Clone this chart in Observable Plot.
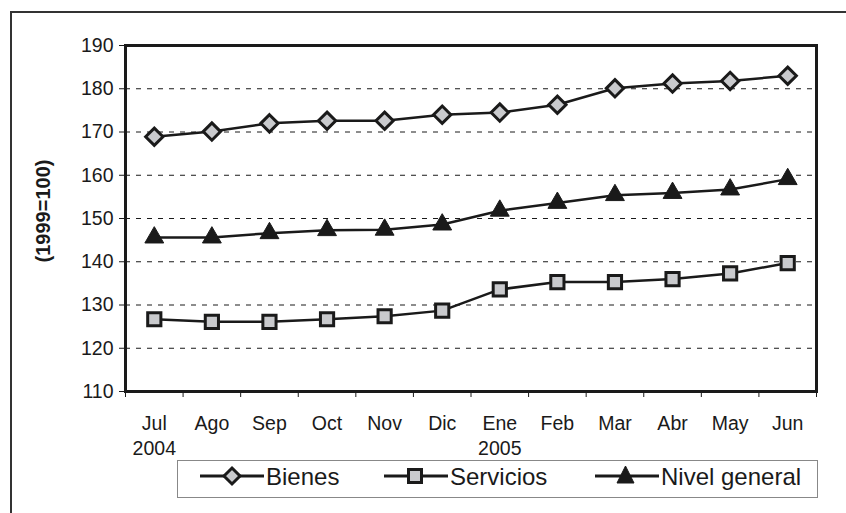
<!DOCTYPE html>
<html>
<head>
<meta charset="utf-8">
<script src="https://cdn.jsdelivr.net/npm/d3@7"></script>
<script src="https://cdn.jsdelivr.net/npm/@observablehq/plot@0.6"></script>
<style>
  html, body { margin: 0; padding: 0; background: #fff; }
  #page { position: relative; width: 846px; height: 513px; overflow: hidden; font-family: "Liberation Sans", Arial, sans-serif; color: #1a1a1a; }
  #outer { position: absolute; left: 10px; top: 11px; width: 850px; height: 520px; border-top: 2px solid #333; border-left: 2px solid #333; }
  #chart { position: absolute; left: 0; top: 0; }
  #ylabel { position: absolute; left: 43px; top: 211px; transform: translate(-50%, -50%) rotate(-90deg); font-weight: bold; font-size: 20px; white-space: nowrap; line-height: 1; }
  #legend { position: absolute; left: 177px; top: 460px; width: 639px; height: 36px; border: 1px solid #888; background: #fff; }
  .item { position: absolute; top: 0; height: 36px; }
  .item svg { position: absolute; top: 0; left: 0; }
  .item span { position: absolute; top: 1px; font-size: 24px; line-height: 30px; white-space: nowrap; }
</style>
</head>
<body>
<div id="page">
  <div id="outer"></div>
  <div id="chart"></div>
  <div id="ylabel"></div>
  <div id="legend"></div>
</div>
<script>
// ---- data ----
const months = ["Jul\n2004", "Ago", "Sep", "Oct", "Nov", "Dic", "Ene\n2005", "Feb", "Mar", "Abr", "May", "Jun"];
const bienes = [168.9, 170.1, 172.0, 172.6, 172.6, 174.0, 174.5, 176.3, 180.1, 181.2, 181.8, 183.0];
const servicios = [126.7, 126.1, 126.1, 126.7, 127.4, 128.7, 133.6, 135.3, 135.3, 136.0, 137.3, 139.7];
const nivelGeneral = [145.6, 145.6, 146.6, 147.3, 147.4, 148.6, 151.8, 153.6, 155.4, 155.9, 156.7, 159.1];
const seriesNames = ["Bienes", "Servicios", "Nivel general"];
const yTicks = [110, 120, 130, 140, 150, 160, 170, 180, 190];
const gridValues = [120, 130, 140, 150, 160, 170, 180];
const yLabel = "(1999=100)";

const idx = months.map((_, i) => i);
const bounds = d3.range(-0.5, months.length, 1);
const rows = (vals) => vals.map((v, i) => ({i, v}));

const fill = "#c9cacd";
const ink = "#1a1a1a";

const chart = Plot.plot({
  width: 846,
  height: 513,
  marginLeft: 125,
  marginRight: 30,
  marginTop: 45,
  marginBottom: 122,
  x: {domain: [-0.5, months.length - 0.5], axis: null},
  y: {domain: [110, 190], axis: null},
  style: {fontFamily: "'Liberation Sans', Arial, sans-serif", fontSize: "19.5px", color: ink, background: "transparent"},
  marks: [
    Plot.ruleY(gridValues, {stroke: ink, strokeWidth: 1, strokeDasharray: "5,6"}),
    Plot.axisY({ticks: yTicks, tickSize: 6, tickPadding: 6, tickFormat: d => String(d), label: null, fontSize: 19.5, stroke: ink}),
    Plot.axisX({ticks: bounds, tickSize: 6, tickFormat: () => "", label: null, stroke: ink}),
    Plot.axisX({ticks: idx, tickSize: 0, tickPadding: 20, tickFormat: i => months[i], label: null, lineHeight: 1.3, fontSize: 19.5}),
    Plot.frame({stroke: ink, strokeWidth: 3}),
    Plot.line(rows(bienes), {x: "i", y: "v", stroke: ink, strokeWidth: 2.5}),
    Plot.line(rows(servicios), {x: "i", y: "v", stroke: ink, strokeWidth: 2.5}),
    Plot.line(rows(nivelGeneral), {x: "i", y: "v", stroke: ink, strokeWidth: 2.5}),
    Plot.dot(rows(bienes), {x: "i", y: "v", symbol: "diamond2", r: 7.8, fill: fill, stroke: ink, strokeWidth: 3}),
    Plot.dot(rows(servicios), {x: "i", y: "v", symbol: "square2", r: 8.4, fill: fill, stroke: ink, strokeWidth: 3}),
    Plot.dot(rows(nivelGeneral), {x: "i", y: "v", symbol: "triangle2", r: 9, fill: ink, stroke: ink, strokeWidth: 1})
  ]
});
document.getElementById("chart").appendChild(chart);
document.getElementById("ylabel").textContent = yLabel;

// ---- legend ----
const legend = document.getElementById("legend");
const legendItems = [
  {name: seriesNames[0], left: 22, sym: "diamond"},
  {name: seriesNames[1], left: 206, sym: "square"},
  {name: seriesNames[2], left: 417, sym: "triangle"}
];
for (const it of legendItems) {
  const div = document.createElement("div");
  div.className = "item";
  div.style.left = it.left + "px";
  let shape = "";
  if (it.sym === "diamond") shape = `<path d="M32,7 L40,15 L32,23 L24,15 Z" fill="${fill}" stroke="${ink}" stroke-width="3" stroke-linejoin="miter"/>`;
  if (it.sym === "square") shape = `<rect x="24.5" y="8.5" width="13" height="13" fill="${fill}" stroke="${ink}" stroke-width="3"/>`;
  if (it.sym === "triangle") shape = `<path d="M30.5,5 L39,22 L22,22 Z" fill="${ink}" stroke="${ink}" stroke-width="1"/>`;
  div.innerHTML = `<svg width="66" height="36"><line x1="0" x2="64" y1="15" y2="15" stroke="${ink}" stroke-width="3"/>${shape}</svg><span style="left:66px">${it.name}</span>`;
  legend.appendChild(div);
}
</script>
</body>
</html>
